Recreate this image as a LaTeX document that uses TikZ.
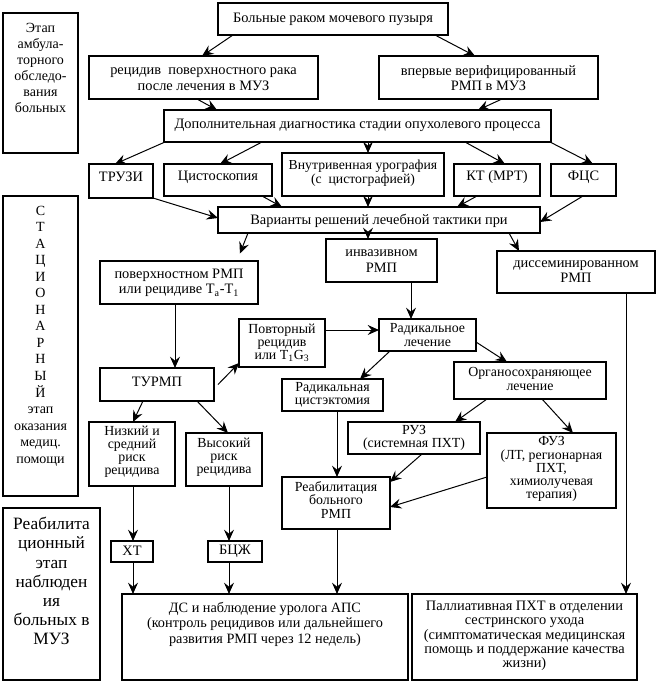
\documentclass[tikz,border=0pt]{standalone}
\usepackage{fontspec}
\setmainfont{Liberation Serif}
\usetikzlibrary{arrows.meta}
\newcommand\mainf{\fontsize{10.8}{11.6}\selectfont\lineskiplimit=-20pt}
\newcommand\tightf{\fontsize{10.4}{9.8}\selectfont\lineskiplimit=-20pt}
\tikzset{
 box/.style={draw, line width=0.8pt, inner sep=0pt, outer sep=0pt},
 txt/.style={align=center, inner sep=0pt, font=\mainf},
 sm/.style={font=\tightf},
 arr/.style={line width=0.75pt, -{Stealth[length=8.5pt,width=7.5pt,inset=3pt]}},
}
% #1 text style, #2 name, #3 x1, #4 y1, #5 x2, #6 y2, #7 text centre y, #8 text
\newcommand\bx[8][]{%
 \node[box, minimum width={(#5-#3)*0.75pt}, minimum height={(#6-#4)*0.75pt}] (#2) at ({(#3+#5)/2},{(#4+#6)/2}) {};
 \node[txt,#1] (#2-t) at ({(#3+#5)/2},#7) {#8};
}
\begin{document}
\begin{tikzpicture}[x=0.75pt,y=-0.75pt]
\path[fill=white,use as bounding box] (0,0) rectangle (656,687);

\bx{top}{218}{3}{448}{35}{19}{Больные раком мочевого пузыря}
\bx{rec}{89}{56}{318}{99}{79}{рецидив\ \ поверхностного рака\\после лечения в МУЗ}
\bx{ver}{379}{56}{598}{99}{78}{впервые верифицированный\\РМП в МУЗ}
\bx{dop}{164}{110}{551}{142}{125}{Дополнительная диагностика стадии опухолевого процесса}
\bx{truzi}{89}{164}{153}{198}{177}{ТРУЗИ}
\bx{cys}{164}{164}{272}{196}{177}{Цистоскопия}
\bx[font={\fontsize{10.3}{10.2}\selectfont\lineskiplimit=-20pt}]{uro}{282}{153}{444}{196}{173}{Внутривенная урография\\(с\ \ цистографией)}
\bx{kt}{454}{164}{540}{196}{177}{КТ (МРТ)}
\bx{fcs}{551}{164}{616}{196}{177}{ФЦС}
\bx{var}{218}{207}{540}{233}{221}{Варианты решений лечебной тактики при}
\bx{pov}{100}{261}{258}{304}{283}{поверхностном РМП\\или рецидиве T\textsubscript{a}-T\textsubscript{1}}
\bx[font={\fontsize{10.8}{12}\selectfont}]{inv}{326}{239}{437}{282}{261}{инвазивном\\РМП}
\bx[font={\fontsize{10.8}{11.3}\selectfont}]{dis}{497}{251}{655}{293}{272}{диссеминированном\\РМП}
\bx[sm]{povt}{239}{319}{325}{367}{343}{Повторный\\рецидив\\или T\textsubscript{1}G\textsubscript{3}}
\bx{turmp}{100}{368}{214}{401}{382}{ТУРМП}
\bx[sm]{radl}{379}{319}{476}{351}{335}{Радикальное\\лечение}
\bx[sm]{org}{454}{362}{606}{399}{379}{Органосохраняющее\\лечение}
\bx[sm]{cyst}{282}{379}{383}{411}{395}{Радикальная\\цистэктомия}
\bx[sm]{ruz}{348}{422}{480}{454}{438}{РУЗ\\(системная ПХТ)}
\bx[sm]{fuz}{487}{433}{616}{508}{469}{ФУЗ\\(ЛТ, регионарная\\ПХТ,\\химиолучевая\\терапия)}
\bx[sm]{reab}{282}{477}{390}{529}{500}{Реабилитация\\больного\\РМП}
\bx[sm]{low}{89}{422}{175}{486}{452}{Низкий и\\средний\\риск\\рецидива}
\bx[sm]{high}{186}{433}{262}{486}{457}{Высокий\\риск\\рецидива}
\bx{xt}{111}{541}{153}{562}{551}{ХТ}
\bx{bcg}{208}{541}{262}{562}{551}{БЦЖ}
\bx[font={\fontsize{10.7}{11.6}\selectfont}]{ds}{122}{594}{408}{680}{624}{ДС и наблюдение уролога АПС\\(контроль рецидивов или дальнейшего\\развития РМП через 12 недель)}
\bx[font={\fontsize{10.8}{10.7}\selectfont\lineskiplimit=-20pt}]{pal}{412}{594}{637}{680}{636}{Паллиативная ПХТ в отделении\\сестринского ухода\\(симптоматическая медицинская\\помощь и поддержание качества\\жизни)}
\bx[font={\fontsize{10.5}{12}\selectfont}]{lt}{3}{13}{78}{153}{68}{Этап\\амбула-\\торного\\обследо-\\вания\\больных}
\bx[font={\fontsize{10.5}{12.4}\selectfont}]{lm}{3}{196}{78}{496}{336}{С\\Т\\А\\Ц\\И\\О\\Н\\А\\Р\\Н\\Ы\\Й\\этап\\оказания\\медиц.\\помощи}
\bx[font={\fontsize{13}{14.3}\selectfont}]{lb}{3}{508}{100}{680}{581}{Реабилита\\ционный\\этап\\наблюден\\ия\\больных в\\МУЗ}

\draw[arr] (top.south -| 233,0) -- (rec.north -| 202,0);
\draw[arr] (top.south -| 435,0) -- (ver.north -| 475,0);
\draw[arr] (rec.south -| 197,0) -- (dop.north -| 217,0);
\draw[arr] (ver.south -| 502,0) -- (dop.north -| 478,0);
\draw[arr] (dop.south -| 165,0) -- (truzi.north -| 115,0);
\draw[arr] (dop.south -| 262,0) -- (cys.north -| 220,0);
\draw[arr] (dop.south -| 368,0) -- (uro.north -| 368,0);
\draw[arr] (dop.south -| 465,0) -- (kt.north -| 505,0);
\draw[arr] (dop.south -| 550,0) -- (fcs.north -| 593,0);
\draw[arr] (truzi.south east) -- (var.west |- 0,218);
\draw[arr] (cys.south -| 262,0) -- (var.north -| 282,0);
\draw[arr] (uro.south -| 368,0) -- (var.north -| 368,0);
\draw[arr] (kt.south -| 477,0) -- (var.north -| 457,0);
\draw[arr] (fcs.south -| 583,0) -- (var.east |- 0,222);
\draw[arr, shorten >=6pt] (var.south -| 248,0) -- (pov.north -| 237,0);
\draw[arr] (var.south -| 368,0) -- (inv.north -| 368,0);
\draw[arr] (var.south -| 509,0) -- (dis.north -| 519,0);
\draw[arr] (pov.south -| 175,0) -- (turmp.north -| 175,0);
\draw[arr] ([xshift=3pt]turmp.east) -- (povt.west |- 0,363);
\draw[arr] (povt.east |- 0,330) -- (radl.west |- 0,330);
\draw[arr] (inv.south -| 411,0) -- (radl.north -| 411,0);
\draw[arr] (dis.south -| 626,0) -- (pal.north -| 626,0);
\draw[arr] (radl.south -| 390,0) -- (cyst.north -| 360,0);
\draw[arr] (radl.east |- 0,342) -- (org.north -| 507,0);
\draw[arr] (org.south -| 487,0) -- (ruz.north -| 455,0);
\draw[arr] (org.south -| 542,0) -- (fuz.north -| 573,0);
\draw[arr] (cyst.south -| 337,0) -- (reab.north -| 337,0);
\draw[arr] (ruz.south -| 422,0) -- (reab.east |- 0,482);
\draw[arr] (fuz.west |- 0,477) -- (reab.east |- 0,507);
\draw[arr] (reab.south -| 337,0) -- (ds.north -| 337,0);
\draw[arr] (turmp.south -| 143,0) -- (low.north -| 133,0);
\draw[arr] (turmp.south -| 197,0) -- (high.north -| 228,0);
\draw[arr] (low.south -| 133,0) -- (xt.north -| 133,0);
\draw[arr] (high.south -| 229,0) -- (bcg.north -| 229,0);
\draw[arr] (xt.south -| 133,0) -- (ds.north -| 133,0);
\draw[arr] (bcg.south -| 229,0) -- (ds.north -| 229,0);
\end{tikzpicture}
\end{document}
